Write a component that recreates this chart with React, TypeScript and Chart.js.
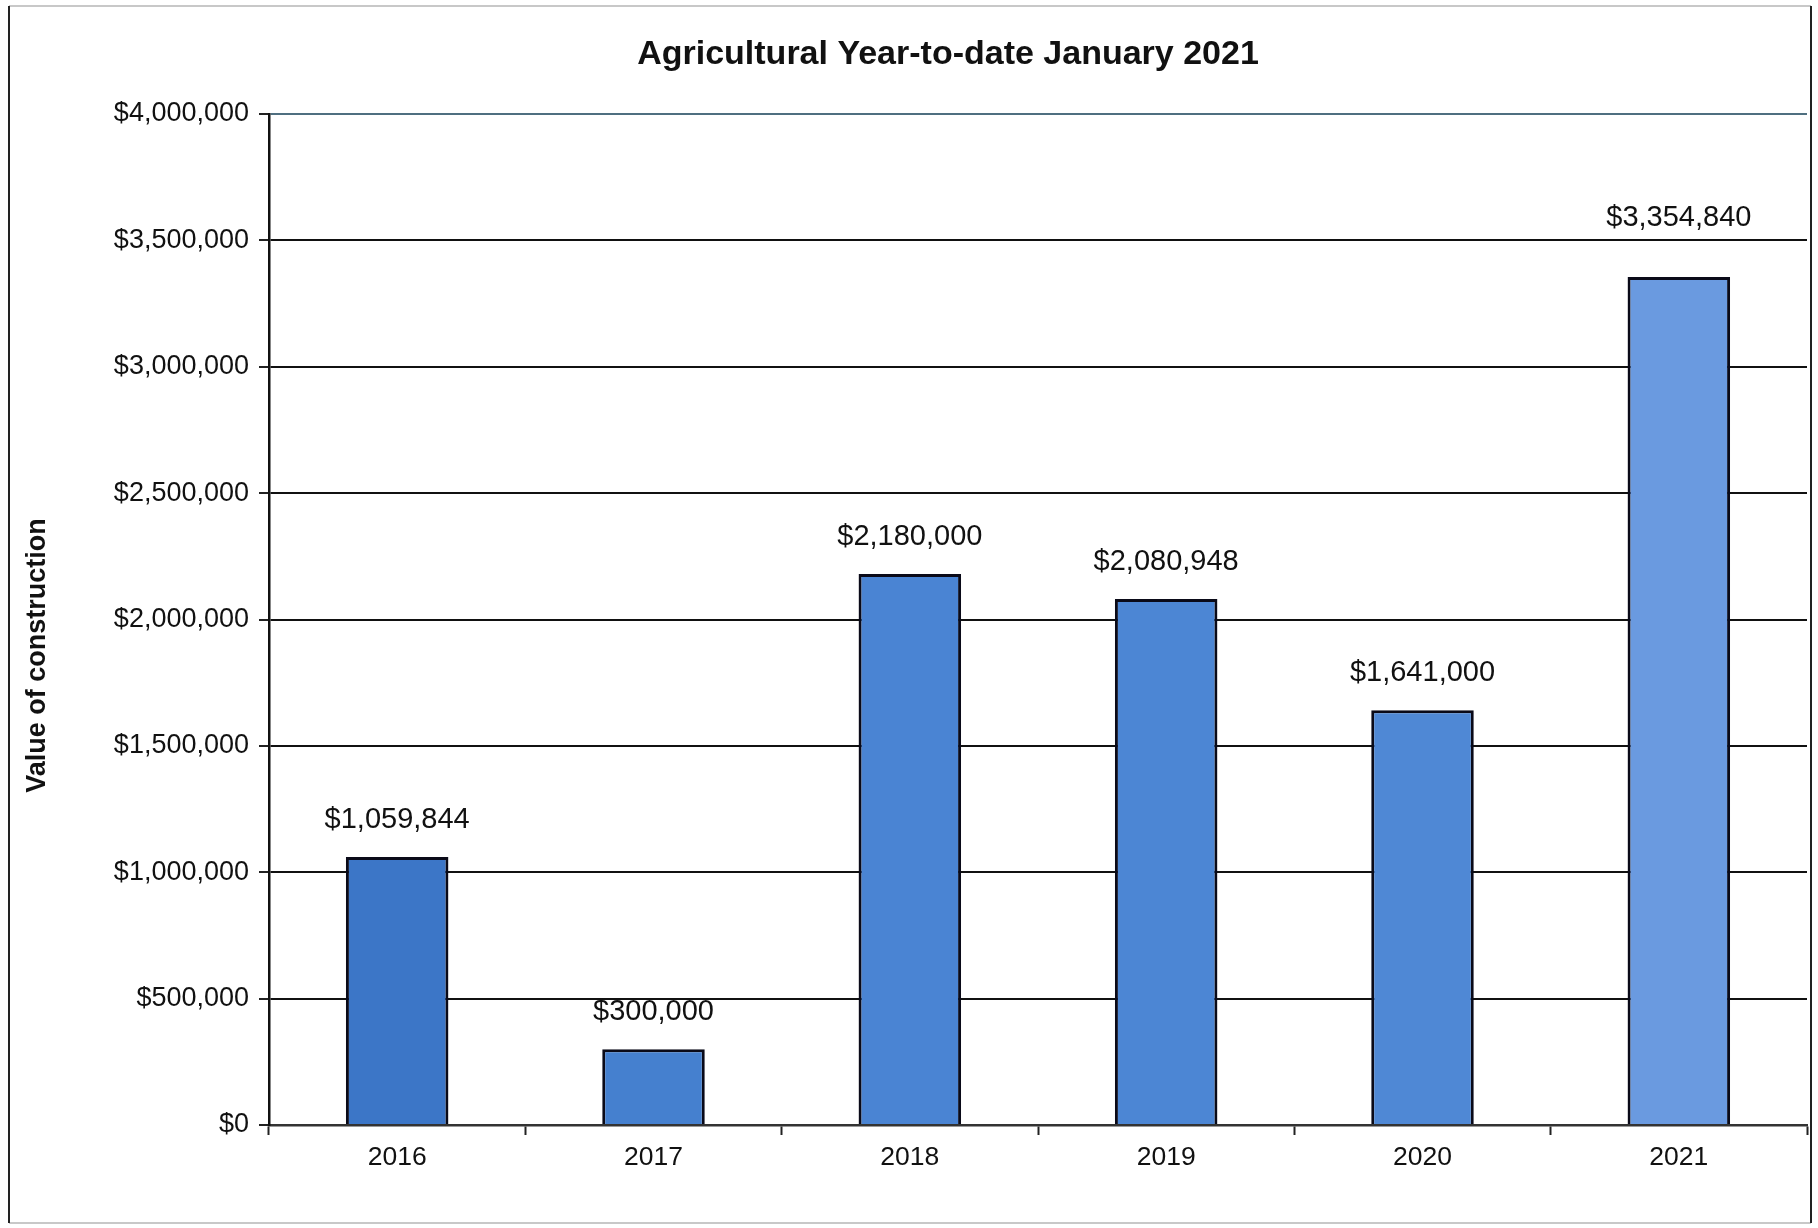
import React, { useEffect, useRef } from "react";
import { Chart, registerables } from "chart.js";

Chart.register(...registerables);

const categories = ["2016", "2017", "2018", "2019", "2020", "2021"];
const values = [1059844, 300000, 2180000, 2080948, 1641000, 3354840];
const yTickValues = [0, 500000, 1000000, 1500000, 2000000, 2500000, 3000000, 3500000, 4000000];
const titleText = "Agricultural Year-to-date January 2021";
const yAxisTitle = "Value of construction";

const barColors = ["#3c76c7", "#4580cf", "#4a84d3", "#4c86d4", "#4f88d5", "#6a9ae0"];

const fmt = (v: number) => "$" + Math.round(v).toLocaleString("en-US");

const FONT = "'Liberation Sans', Arial, sans-serif";
const LABEL_SIZE = 29;

const dataLabelPlugin = {
  id: "dataLabels",
  afterDatasetsDraw(chart: any) {
    const ctx = chart.ctx;
    const meta = chart.getDatasetMeta(0);
    const yScale = chart.scales.y;
    const gridYs = yScale.ticks.map((t: any) => yScale.getPixelForValue(t.value));
    const half = LABEL_SIZE * 0.36;
    ctx.save();
    ctx.font = `${LABEL_SIZE}px ${FONT}`;
    ctx.fillStyle = "#111";
    ctx.textAlign = "center";
    ctx.textBaseline = "middle";
    meta.data.forEach((bar: any, i: number) => {
      const v = chart.data.datasets[0].data[i];
      let y = bar.y - 37;
      // keep label clear of gridlines (move above a crossing line)
      for (const gy of gridYs) {
        if (Math.abs(gy - y) < half) {
          y = gy - half - 12;
        }
      }
      ctx.fillText(fmt(v), bar.x, y);
    });
    ctx.restore();
  },
};

const textPlugin = {
  id: "titles",
  afterDraw(chart: any) {
    const ctx = chart.ctx;
    const area = chart.chartArea;
    ctx.save();
    ctx.fillStyle = "#111";
    ctx.textAlign = "center";
    ctx.textBaseline = "middle";
    ctx.font = `bold 34px ${FONT}`;
    ctx.fillText(titleText, chart.width / 2 + 39, 55);
    ctx.translate(38, (area.top + area.bottom) / 2 + 36);
    ctx.rotate(-Math.PI / 2);
    ctx.font = `bold 27px ${FONT}`;
    ctx.fillText(yAxisTitle, 0, 0);
    ctx.restore();
  },
};

const borderPlugin = {
  id: "outerBorder",
  beforeDraw(chart: any) {
    const ctx = chart.ctx;
    ctx.save();
    ctx.fillStyle = "#ffffff";
    ctx.fillRect(0, 0, chart.width, chart.height);
    ctx.lineWidth = 2;
    ctx.strokeStyle = "#c8c8c8";
    ctx.beginPath();
    ctx.moveTo(9, 6);
    ctx.lineTo(1811, 6);
    ctx.moveTo(9, 1223);
    ctx.lineTo(1811, 1223);
    ctx.stroke();
    ctx.strokeStyle = "#222";
    ctx.beginPath();
    ctx.moveTo(9, 6);
    ctx.lineTo(9, 1223);
    ctx.moveTo(1811, 6);
    ctx.lineTo(1811, 1223);
    ctx.stroke();
    ctx.restore();
  },
};

export default function App() {
  const ref = useRef<HTMLCanvasElement | null>(null);

  useEffect(() => {
    if (!ref.current) return;
    const chart = new Chart(ref.current, {
      type: "bar",
      data: {
        labels: categories,
        datasets: [
          {
            data: values,
            backgroundColor: barColors,
            borderColor: "#0a0a18",
            borderWidth: 3,
            borderSkipped: "bottom",
            barPercentage: 0.4,
            categoryPercentage: 1,
          },
        ],
      },
      options: {
        animation: false,
        responsive: true,
        maintainAspectRatio: false,
        layout: { padding: { left: 0, right: 11, top: 114, bottom: 0 } },
        plugins: {
          legend: { display: false },
          tooltip: { enabled: false },
          title: { display: false },
        },
        scales: {
          x: {
            offset: true,
            grid: {
              display: true,
              offset: true,
              drawOnChartArea: false,
              drawTicks: true,
              tickLength: 10,
              tickWidth: 2,
              tickColor: "#222",
            },
            border: { display: true, color: "#333", width: 2.5 },
            ticks: {
              color: "#111",
              font: { family: FONT, size: 26.5 },
              padding: 7,
            },
            afterFit(scale: any) {
              scale.height = 103;
            },
          },
          y: {
            min: 0,
            max: 4000000,
            afterBuildTicks(scale: any) {
              scale.ticks = yTickValues.map((v) => ({ value: v }));
            },
            grid: {
              color: (c: any) => (c.tick && c.tick.value === 4000000 ? "#4f6f80" : "#111"),
              lineWidth: 2,
              tickLength: 10,
              tickColor: "#222",
              tickWidth: 2,
            },
            border: { display: true, color: "#111", width: 2.5 },
            ticks: {
              color: "#111",
              font: { family: FONT, size: 27 },
              padding: 10,
              callback: (v: any) => fmt(Number(v)),
            },
            title: { display: false },
            afterFit(scale: any) {
              scale.width = 269;
            },
          },
        },
      },
      plugins: [borderPlugin, dataLabelPlugin, textPlugin],
    });
    return () => chart.destroy();
  }, []);

  return (
    <div style={{ position: "fixed", left: 0, top: 0, width: 1818, height: 1228, background: "#fff" }}>
      <canvas ref={ref} />
    </div>
  );
}
